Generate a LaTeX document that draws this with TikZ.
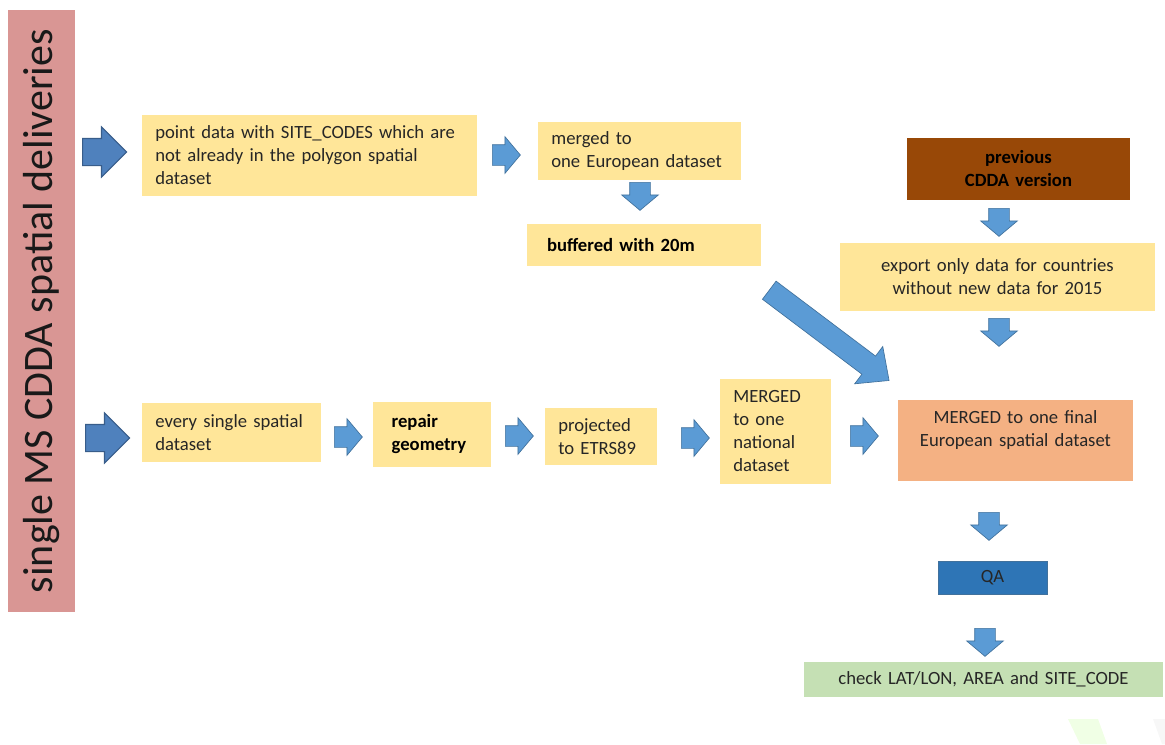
\documentclass[tikz,border=0pt]{standalone}
\usepackage{fontspec}
\setmainfont{Carlito}
\usetikzlibrary{shapes.arrows}
\definecolor{boxyellow}{HTML}{FFE699}
\definecolor{barpink}{HTML}{D99694}
\definecolor{brownbox}{HTML}{984807}
\definecolor{orangebox}{HTML}{F4B183}
\definecolor{qablue}{HTML}{2E75B6}
\definecolor{greenbox}{HTML}{C5E0B4}
\definecolor{arrowblue}{HTML}{5B9BD5}
\definecolor{arrowedge}{HTML}{41719C}
\definecolor{bigblue}{HTML}{4F81BD}
\definecolor{bigedge}{HTML}{385D8A}
\definecolor{txt}{HTML}{262626}
\newcommand\boxfont{\fontsize{14}{17.25}\selectfont}
\tikzset{
  box/.style 2 args={fill=boxyellow, text=txt, font=\boxfont, align=left,
    minimum width=#1*0.75pt, minimum height=#2*0.75pt,
    text width=#1*0.75pt-20pt, inner xsep=10pt, inner ysep=0pt},
  boldbox/.style={text=black, font=\boxfont\bfseries},
  rarr/.style={single arrow, anchor=tail, fill=arrowblue, draw=arrowedge, line width=0.5pt,
    inner xsep=0pt, inner ysep=7.5pt, minimum height=21pt,
    single arrow head extend=6pt, single arrow tip angle=100},
  darr/.style={rarr, shape border rotate=270, inner xsep=7.5pt, inner ysep=0pt},
  bigarr/.style={single arrow, anchor=tail, fill=bigblue, draw=bigedge, line width=0.8pt,
    inner xsep=0pt, inner ysep=9.75pt, minimum height=33pt,
    single arrow head extend=8.6pt, single arrow tip angle=90}
}
\begin{document}
\begin{tikzpicture}[x=0.75pt,y=-0.75pt]
\useasboundingbox (0,0) rectangle (1165,744);
\fill[color=green!60!yellow!10] (1068,719)--(1098,719)--(1107,744)--(1080,744)--cycle;
\fill[color=black!3] (1153,719)--(1165,719)--(1165,744)--(1162,744)--cycle;
\node[fill=barpink, rotate=90, minimum width=451.5pt, minimum height=50.25pt,
  font=\fontsize{31.5}{36}\selectfont, text=black!90] (deliv) at (41.5,311) {single MS CDDA spatial deliveries};
\node[bigarr] (in1) at (82,152) {};
\node[bigarr] (in2) at (85,438) {};
\node[box={335}{81}] (points) at (309.5,155.5) {point data with SITE\_CODES which are\\not already in the polygon spatial\\dataset};
\node[rarr] (a1) at (492,155) {};
\node[box={203}{58}] (euro) at (639.5,151) {merged to\\one European dataset};
\node[darr] (a2) at (640,182) {};
\node[box={234}{42}, boldbox, inner xsep=15pt, text width=175.5pt-30pt] (buffer) at (644,245) {buffered with 20m};
\node[rarr, inner ysep=8.25pt, minimum height=112.5pt, single arrow head extend=9pt,
  single arrow tip angle=85, rotate=-37] (diag) at (769,290) {};
\node[box={223}{62}, fill=brownbox, boldbox, align=center] (prev) at (1018.5,169) {previous\\CDDA version};
\node[darr] (a3) at (999,208) {};
\node[box={315}{68}, align=center] (export) at (997.5,277) {export only data for countries\\without new data for 2015};
\node[darr] (a4) at (999,318) {};
\node[box={111}{105}] (nat) at (775.5,431.5) {MERGED\\to one\\national\\dataset};
\node[box={235}{81}, fill=orangebox, align=center] (final) at (1015.5,440.5) {MERGED to one final\\European spatial dataset\\~};
\node[box={179}{59}] (every) at (231.5,432.5) {every single spatial\\dataset};
\node[rarr] (b1) at (334,437) {};
\node[box={118}{65}, boldbox, inner xsep=14pt, text width=88.5pt-28pt] (repair) at (432,434.5) {repair\\geometry};
\node[rarr] (b2) at (505,436) {};
\node[box={112}{57}] (proj) at (601,436.5) {projected\\to ETRS89};
\node[rarr] (b3) at (681,438) {};
\node[rarr] (b4) at (850,436) {};
\node[darr] (a5) at (989,512) {};
\node[fill=qablue, draw=arrowedge, line width=0.5pt, minimum width=81.75pt, minimum height=24.75pt,
  font=\boxfont, text=txt] (qa) at (992.5,577.5) {QA};
\node[darr] (a6) at (985,628) {};
\node[box={359}{35}, fill=greenbox, align=center] (check) at (983.5,679.5) {check LAT/LON, AREA and SITE\_CODE};
\end{tikzpicture}
\end{document}
